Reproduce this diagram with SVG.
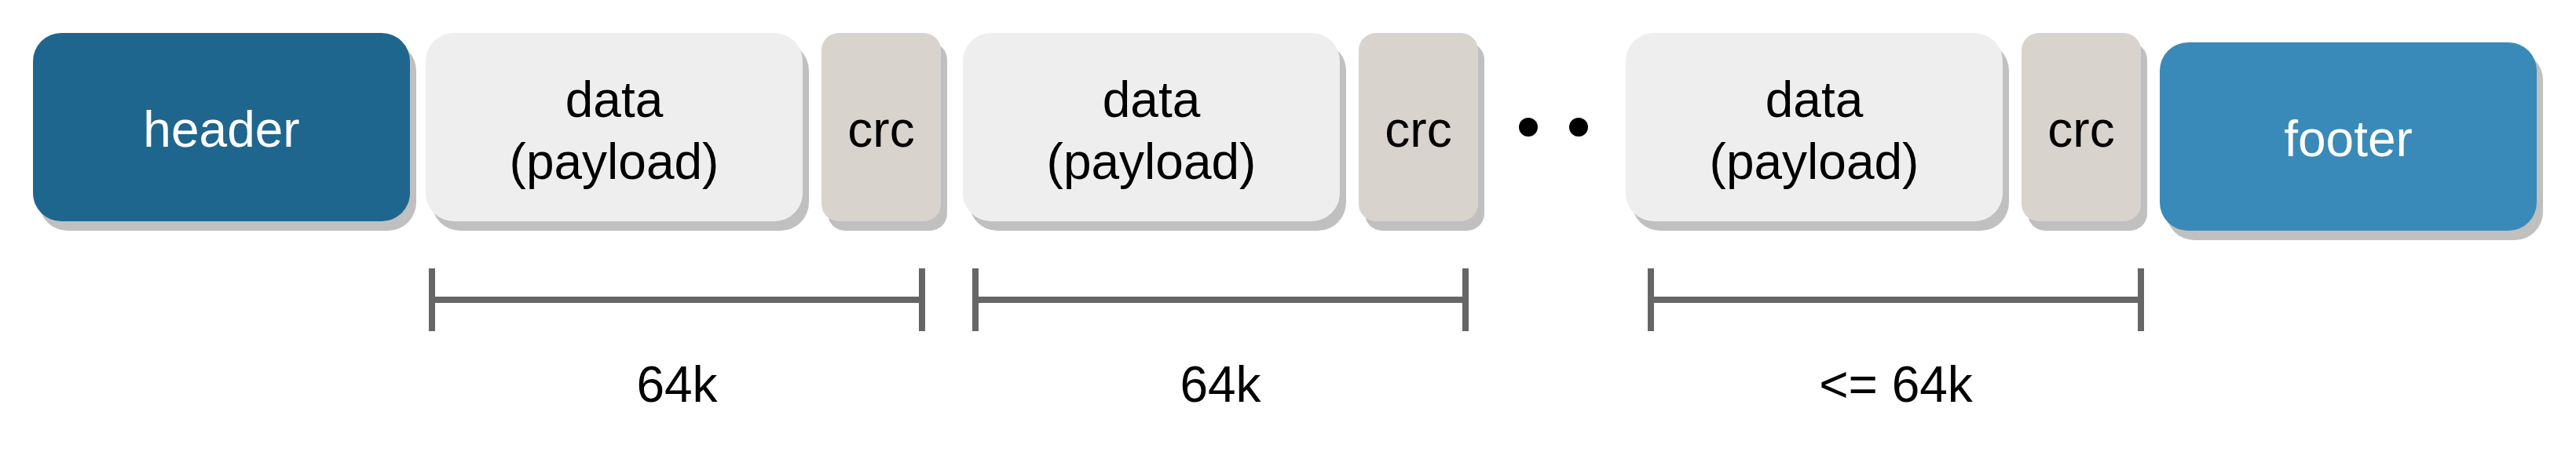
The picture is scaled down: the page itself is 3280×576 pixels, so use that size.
<svg xmlns="http://www.w3.org/2000/svg" width="3280" height="576" viewBox="0 0 3280 576">
<style>
.sh{fill:#C0C0C0}
.hdr{fill:#1E668E}
.ftr{fill:#3A8AB9}
.dat{fill:#EEEEEE}
.crc{fill:#D9D3CD}
text{font-family:"Liberation Sans",Arial,sans-serif;font-size:64px;text-anchor:middle}
.w{fill:#FFFFFF}
.b{fill:#000000}
.br{stroke:#666666;stroke-width:8;fill:none}
</style>
<rect width="3280" height="576" fill="#FFFFFF"/>
<g id="header">
<rect class="sh" x="50" y="54" width="480" height="240" rx="36" ry="36"/>
<rect class="hdr" x="42" y="42" width="480" height="240" rx="36" ry="36"/>
<text class="w" x="282" y="187">header</text>
</g>
<g id="data1">
<rect class="sh" x="550" y="54" width="480" height="240" rx="36" ry="36"/>
<rect class="dat" x="542" y="42" width="480" height="240" rx="36" ry="36"/>
<text class="b" x="782" y="149">data</text>
<text class="b" x="782" y="228">(payload)</text>
</g>
<g id="crc1">
<rect class="sh" x="1054" y="54" width="152" height="240" rx="22" ry="22"/>
<rect class="crc" x="1046" y="42" width="152" height="240" rx="22" ry="22"/>
<text class="b" x="1122" y="187">crc</text>
</g>
<g id="data2">
<rect class="sh" x="1234" y="54" width="480" height="240" rx="36" ry="36"/>
<rect class="dat" x="1226" y="42" width="480" height="240" rx="36" ry="36"/>
<text class="b" x="1466" y="149">data</text>
<text class="b" x="1466" y="228">(payload)</text>
</g>
<g id="crc2">
<rect class="sh" x="1738" y="54" width="152" height="240" rx="22" ry="22"/>
<rect class="crc" x="1730" y="42" width="152" height="240" rx="22" ry="22"/>
<text class="b" x="1806" y="187">crc</text>
</g>
<g id="ellipsis">
<circle cx="1946" cy="162" r="12" fill="#000000"/>
<circle cx="2010" cy="162" r="12" fill="#000000"/>
</g>
<g id="data3">
<rect class="sh" x="2078" y="54" width="480" height="240" rx="36" ry="36"/>
<rect class="dat" x="2070" y="42" width="480" height="240" rx="36" ry="36"/>
<text class="b" x="2310" y="149">data</text>
<text class="b" x="2310" y="228">(payload)</text>
</g>
<g id="crc3">
<rect class="sh" x="2582" y="54" width="152" height="240" rx="22" ry="22"/>
<rect class="crc" x="2574" y="42" width="152" height="240" rx="22" ry="22"/>
<text class="b" x="2650" y="187">crc</text>
</g>
<g id="footer">
<rect class="sh" x="2758" y="66" width="480" height="240" rx="36" ry="36"/>
<rect class="ftr" x="2750" y="54" width="480" height="240" rx="36" ry="36"/>
<text class="w" x="2990" y="199">footer</text>
</g>
<g id="connectors">
<path class="br" d="M550 342V422M550 382H1174M1174 342V422"/>
<path class="br" d="M1242 342V422M1242 382H1866M1866 342V422"/>
<path class="br" d="M2102 342V422M2102 382H2726M2726 342V422"/>
</g>
<g id="labels">
<text class="b" x="862" y="512">64k</text>
<text class="b" x="1554" y="512">64k</text>
<text class="b" x="2414" y="512">&lt;= 64k</text>
</g>
</svg>
